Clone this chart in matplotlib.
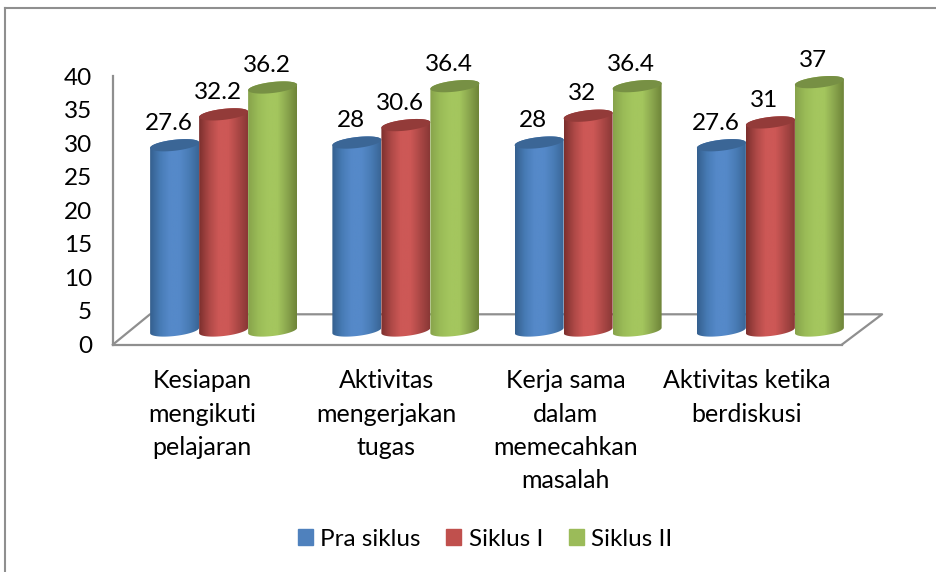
import numpy as np
import matplotlib
matplotlib.use("Agg")
import matplotlib.pyplot as plt
from matplotlib.colors import LinearSegmentedColormap
from matplotlib.patches import Patch, Polygon

plt.rcParams['font.family'] = ['Lato', 'DejaVu Sans']

categories = ["Kesiapan\nmengikuti\npelajaran", "Aktivitas\nmengerjakan\ntugas",
              "Kerja sama\ndalam\nmemecahkan\nmasalah", "Aktivitas ketika\nberdiskusi"]
series_names = ["Pra siklus", "Siklus I", "Siklus II"]
pra_siklus = [27.6, 28, 28, 27.6]
siklus_1 = [32.2, 30.6, 32, 31]
siklus_2 = [36.2, 36.4, 36.4, 37]
yticks = [0, 5, 10, 15, 20, 25, 30, 35, 40]

# flat legend colour, then edge / mid / light / right / top shades for the cylinders
flat = ["#4f81bd", "#c0504d", "#9bbb59"]
ramps = [["#35608f", "#477bb5", "#5589c9", "#5589c9", "#497cb6", "#3a6697"],
         ["#7d302e", "#ad4846", "#cd5856", "#cd5856", "#ac4846", "#8a3836"],
         ["#87a34b", "#9abb57", "#a4c65e", "#a4c65e", "#8ba74e", "#6f8539"]]
top = ["#3b6696", "#933b39", "#779044"]
grey = "#8f8f8f"
fs = 17.5

W, H = 936, 572
fig = plt.figure(figsize=(W / 100, H / 100), dpi=100)


def make_axes(x0, x1, y_bottom, y_top):
    return fig.add_axes([x0 / W, 1 - y_bottom / H, (x1 - x0) / W, (y_bottom - y_top) / H])


# frame of the chart (no right or bottom edge in the picture)
fig.add_artist(plt.Line2D([5 / W, 5 / W], [0, 1 - 8 / H], color=grey, lw=1.5))
fig.add_artist(plt.Line2D([5 / W, 1], [1 - 8 / H, 1 - 8 / H], color=grey, lw=1.5))

# front wall of the 3d box
ax = make_axes(113, 842, 344.5, 76)
ax.set_xlim(-0.5, 3.5)
ax.set_ylim(0, 40)
ax.patch.set_alpha(0)
for s in ["top", "right"]:
    ax.spines[s].set_visible(False)
for s in ["left", "bottom"]:
    ax.spines[s].set_color(grey)
    ax.spines[s].set_linewidth(1.6)
ax.set_xticks([])
ax.set_yticks(yticks)
ax.tick_params(axis="y", length=0, pad=15, labelsize=fs)

# floor
ax.plot([-0.5, -0.297, 3.72, 3.5], [0, 4.5, 4.5, 0], color=grey, lw=1.6, clip_on=False)

label_shift = [-2, 0, -3, -4]
for i, lab in enumerate(categories):
    ax.annotate(lab, (i, 0), xytext=(label_shift[i] * 0.72, -25 * 0.72), textcoords="offset points",
                ha="center", va="top", multialignment="center", fontsize=18, linespacing=1.53,
                annotation_clip=False)

# cylinders sit on the floor, 20 px right and 14 px up from the front wall
scale = (344.5 - 76) / 40
ax_b = make_axes(132.5, 861.5, 330.5 + 5 * scale, 62 - 5 * scale)
ax_b.set_xlim(-0.5, 3.5)
ax_b.set_ylim(-5, 45)
ax_b.axis("off")

bar_w = 49 / 182.25
a = bar_w / 2
b = 5.5 / scale
k = 2.7 / scale
t = np.linspace(0, 2 * np.pi, 80)

for s, vals in enumerate([pra_siklus, siklus_1, siklus_2]):
    cmap = LinearSegmentedColormap.from_list("c", ramps[s])
    for i, v in enumerate(vals):
        cx = i + (s - 1) * bar_w
        # body: lower half of the base ellipse and upper half of the top one
        tb = np.linspace(np.pi, 2 * np.pi, 40)
        tt = np.linspace(0, np.pi, 40)
        xs = np.r_[cx + a * np.cos(tb), cx + a * np.cos(tt)]
        ys = np.r_[b * np.sin(tb) + k * np.cos(tb), v + b * np.sin(tt) + k * np.cos(tt)]
        body = Polygon(np.c_[xs, ys], closed=True, transform=ax_b.transData, fc="none", ec="none")
        im = ax_b.imshow(np.linspace(0, 1, 64)[None, :], cmap=cmap, aspect="auto",
                         extent=[cx - a, cx + a, -3, v + 3], zorder=2 + s + i * 3)
        im.set_clip_path(body)
        ax_b.fill(cx + a * np.cos(t), v + b * np.sin(t) + k * np.cos(t), color=top[s],
                  zorder=2 + s + i * 3, lw=0)
        ax_b.annotate(f"{v:g}", (cx, v), xytext=(-6 * 0.72, 22 * 0.72), textcoords="offset points",
                      ha="center", va="center", fontsize=fs, zorder=20)
ax_b.set_xlim(-0.5, 3.5)
ax_b.set_ylim(-5, 45)

handles = [Patch(color=c, label=n) for c, n in zip(flat, series_names)]
fig.legend(handles=handles, loc="center", bbox_to_anchor=(485 / W, 1 - 539 / H), ncol=3, frameon=False,
           fontsize=fs, handlelength=0.62, handleheight=0.62, handletextpad=0.3, columnspacing=1.05)

fig.savefig("out.png", dpi=100)
